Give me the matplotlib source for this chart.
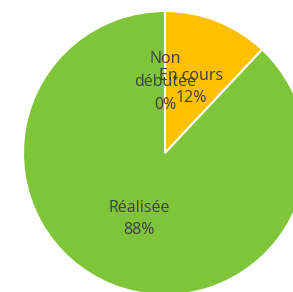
import matplotlib
matplotlib.use("Agg")
import matplotlib.pyplot as plt

# data
labels = ["Non\ndébutée", "En cours", "Réalisée"]
values = [0, 12, 88]
colors = ["#4472C4", "#FFC000", "#7FC539"]

plt.rcParams['font.family'] = ['Open Sans', 'DejaVu Sans']

fig = plt.figure(figsize=(2.93, 2.92), dpi=100)
ax = fig.add_axes([0, 0, 1, 1])

total = sum(values)
texts_lab = [f"{l}\n{round(100 * v / total)}%" for l, v in zip(labels, values)]

wedges, texts = ax.pie(values, labels=texts_lab, colors=colors, startangle=90,
                       counterclock=False, center=(165, 139), radius=142,
                       labeldistance=0.5, frame=True,
                       wedgeprops=dict(edgecolor='white', linewidth=1.5))
for t in texts:
    t.set_ha('center')
    t.set_va('center')
    t.set_color('#404040')
    t.set_fontsize(11.5)
    t.set_linespacing(1.55)

ax.set_xlim(0, 293)
ax.set_ylim(0, 292)
ax.set_aspect('equal')
ax.axis('off')

plt.savefig("out.png", dpi=100)
